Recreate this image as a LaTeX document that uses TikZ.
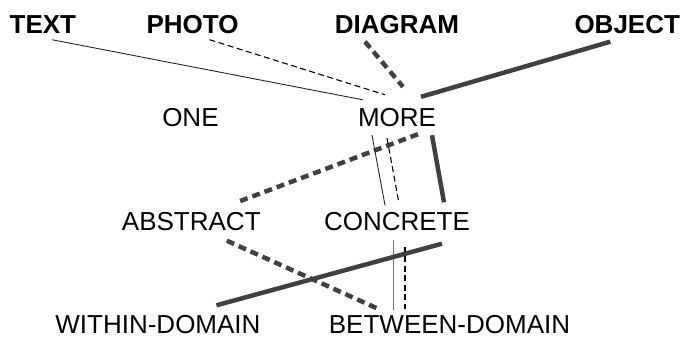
\documentclass[tikz,border=0pt]{standalone}
\usepackage{fontspec}
\setmainfont{Liberation Sans}
\usetikzlibrary{positioning}

\tikzset{
  level/.style={font=\fontsize{26}{26}\selectfont, inner sep=0pt, text height=18.6pt, text depth=0pt},
  kind/.style={level, font=\fontsize{26}{26}\selectfont\bfseries},
  thinline/.style={line width=0.9pt, black!85},
  thindash/.style={line width=1.1pt, black, dash pattern=on 6pt off 3.5pt},
  thickline/.style={line width=4.5pt, black!75},
  thickdash/.style={line width=4.5pt, black!75, dash pattern=on 8pt off 5pt},
}

\begin{document}
\begin{tikzpicture}[x=1pt, y=1pt]

  \useasboundingbox (0,0) rectangle (683,337);

  % Define nodes
  \node[level]                        (more)    at (397,219.5) {MORE};
  \node[level, left=139pt of more]    (one)     {ONE};
  \node[kind, above=74pt of more]     (diagram) {DIAGRAM};
  \node[kind, left=96pt of diagram]   (photo)   {PHOTO};
  \node[kind, left=70pt of photo]     (txt)     {TEXT};
  \node[kind, right=115pt of diagram] (object)  {OBJECT};
  \node[level, below=85pt of more]    (concr)   {CONCRETE};
  \node[level, left=63pt of concr]    (abstr)   {ABSTRACT};
  \node[level, below=84pt of concr, xshift=52.5pt] (between) {BETWEEN-DOMAIN};
  \node[level, left=68pt of between]  (within)  {WITHIN-DOMAIN};

  % Connect the nodes
  \draw[thinline]  ([shift={(9,-5.7)}]txt.south)      -- ([shift={(5,8.2)}]more.north west);
  \draw[thindash]  ([shift={(17,-5.7)}]photo.south)   -- ([shift={(-12,13.2)}]more.north);
  \draw[thickdash] ([shift={(-32,-7.7)}]diagram.south) -- ([shift={(6,21.2)}]more.north);
  \draw[thickline] ([shift={(-17,-7.7)}]object.south) -- ([shift={(24,11.2)}]more.north);

  \draw[thickdash] ([shift={(21,-7.2)}]more.south)  -- ([shift={(45.5,9.7)}]abstr.north);
  \draw[thinline]  ([shift={(-25,-8.2)}]more.south) -- ([shift={(-12,6.7)}]concr.north);
  \draw[thindash]  ([shift={(-10,-11.2)}]more.south) -- ([shift={(2,8.7)}]concr.north);
  \draw[thickline] ([shift={(35,-8.2)}]more.south)  -- ([shift={(47,9.7)}]concr.north);

  \draw[thinline, black!55] ([shift={(-4,-8.7)}]concr.south) -- ([shift={(-56.5,4.7)}]between.north);
  \draw[thindash]  ([shift={(8,-15.7)}]concr.south)  -- ([shift={(-44.5,5.7)}]between.north);
  \draw[thickline] ([shift={(45,-12.7)}]concr.south) -- ([shift={(58.5,9.7)}]within.north);
  \draw[thickdash] ([shift={(35.5,-9.7)}]abstr.south) -- ([shift={(-72.5,6.7)}]between.north);

\end{tikzpicture}
\end{document}
